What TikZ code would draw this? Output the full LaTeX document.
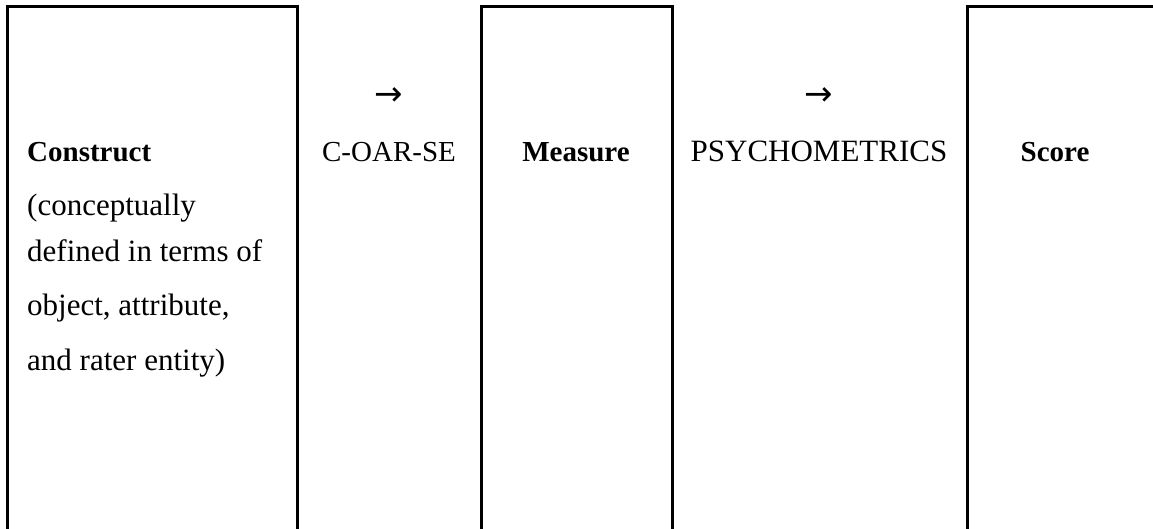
\documentclass[tikz,border=0pt]{standalone}
\usepackage{fontspec}
\setmainfont{Liberation Serif}
\newfontfamily\symfont{DejaVu Sans}
\begin{document}
\begin{tikzpicture}[x=1pt,y=-1pt,
  cellbox/.style={draw=black,line width=3pt},
  txt/.style={inner sep=0pt,font=\fontsize{31}{36}\selectfont},
  btxt/.style={inner sep=0pt,font=\fontsize{29}{34}\selectfont\bfseries},
  arr/.style={inner sep=0pt,font=\fontsize{34}{38}\selectfont\symfont}]
\useasboundingbox (0,0) rectangle (1153,528);
\clip (0,0) rectangle (1153,528);
\fill[white] (0,0) rectangle (1153,528);
\draw[cellbox] (7,6) rectangle (297,560);
\draw[cellbox] (481,6) rectangle (672,560);
\draw[cellbox] (967,6) rectangle (1180,560);
\node[btxt,anchor=base west] (construct) at (27,161) {Construct};
\node[txt,anchor=base west] (l2) at (27,215) {(conceptually};
\node[txt,anchor=base west] (l3) at (27,261) {defined in terms of};
\node[txt,anchor=base west] (l4) at (27,315) {object, attribute,};
\node[txt,anchor=base west] (l5) at (27,370) {and rater entity)};
\node[arr] (a1) at (389,97) {→};
\node[txt,anchor=base,font=\fontsize{29}{34}\selectfont] (coarse) at (389,161) {C-OAR-SE};
\node[btxt,anchor=base] (measure) at (576,161) {Measure};
\node[arr] (a2) at (819,97) {→};
\node[txt,anchor=base] (psy) at (819,161) {PSYCHOMETRICS};
\node[btxt,anchor=base] (score) at (1055,161) {Score};
\end{tikzpicture}
\end{document}
